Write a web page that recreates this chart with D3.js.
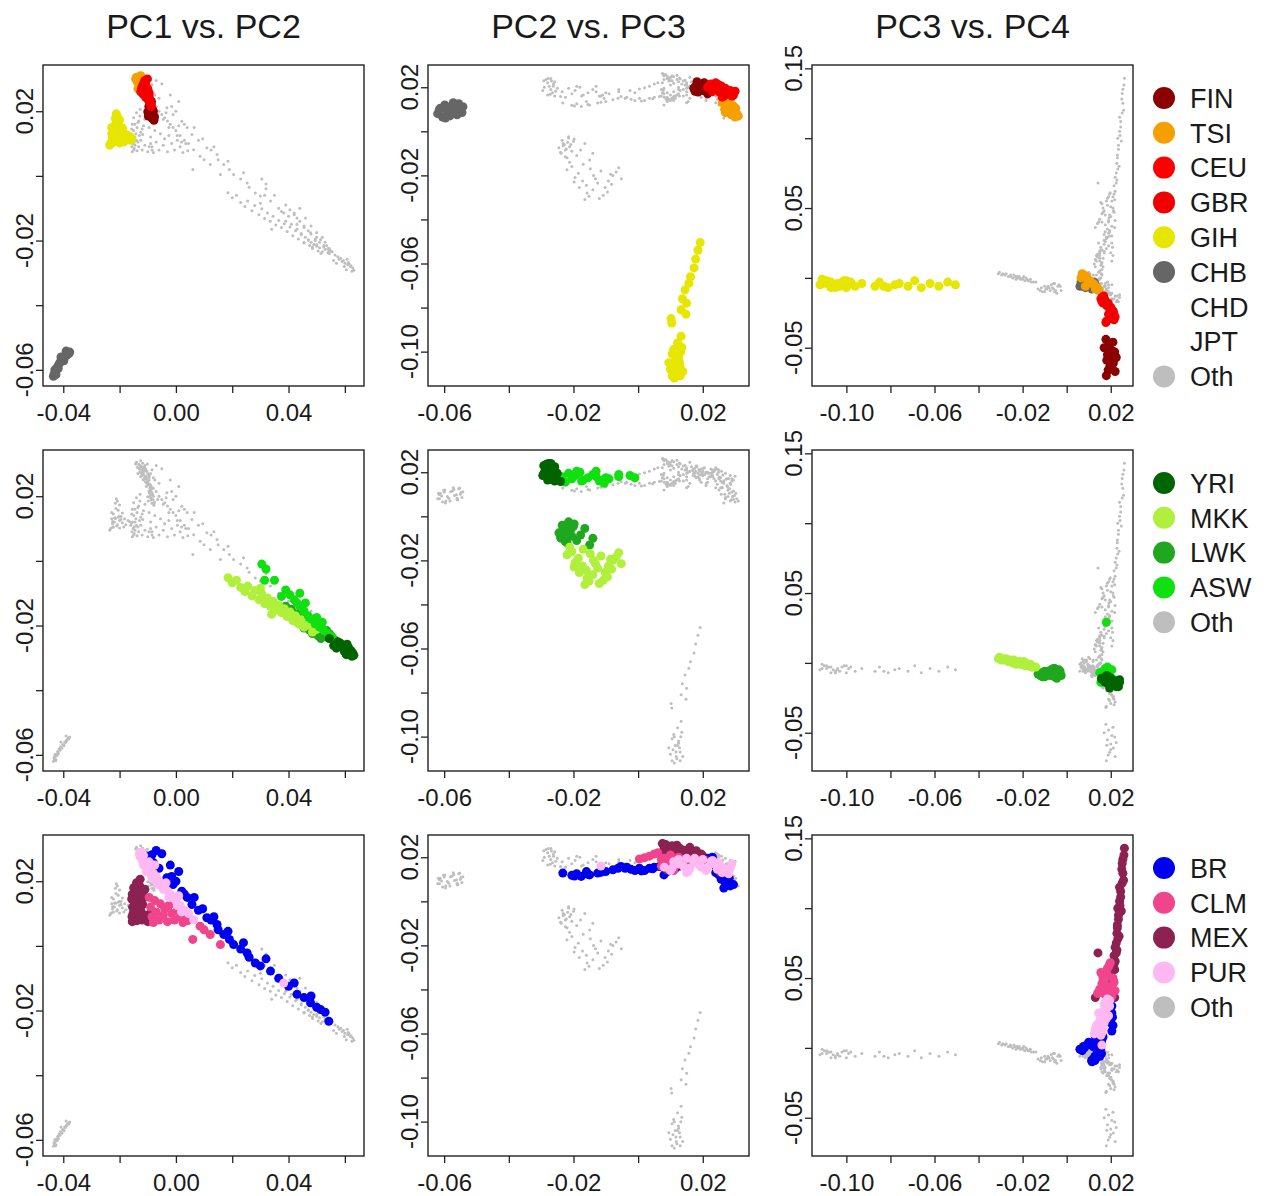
<!DOCTYPE html>
<html><head><meta charset="utf-8">
<script src="https://cdn.jsdelivr.net/npm/d3@7"></script>
<style>body{margin:0;background:#fff}svg{display:block}</style>
</head><body>
<svg id="chart" width="1271" height="1196"></svg>
<script>
// ---------- DATA: each individual = [PC1, PC2, PC3, PC4] ----------
const FIN = [[-0.0098,0.0185,0.0178,-0.044],[-0.0090,0.0195,0.0190,-0.048],[-0.0085,0.0178,0.0205,-0.052],[-0.0080,0.0200,0.0185,-0.055],[-0.0094,0.0210,0.0200,-0.058],[-0.0088,0.0188,0.0212,-0.061],[-0.0078,0.0172,0.0195,-0.064],[-0.0083,0.0205,0.0220,-0.067],[-0.0092,0.0220,0.0180,-0.070],[-0.0087,0.0230,0.0210,-0.046],[-0.0096,0.0215,0.0170,-0.050],[-0.0076,0.0182,0.0225,-0.057],[-0.0100,0.0198,0.0200,-0.062],[-0.0082,0.0190,0.0188,-0.066],[-0.0091,0.0202,0.0218,-0.053],[-0.0079,0.0176,0.0182,-0.059]];
const TSI = [[-0.0140,0.0305,0.0080,0.002],[-0.0132,0.0298,0.0095,-0.001],[-0.0125,0.0310,0.0070,0.003],[-0.0137,0.0290,0.0110,-0.003],[-0.0120,0.0283,0.0125,-0.005],[-0.0128,0.0275,0.0140,-0.007],[-0.0115,0.0268,0.0100,-0.002],[-0.0110,0.0260,0.0130,-0.008],[-0.0143,0.0300,0.0065,0.000],[-0.0122,0.0292,0.0090,0.001],[-0.0105,0.0278,0.0120,-0.004],[-0.0130,0.0286,0.0145,-0.009],[-0.0118,0.0302,0.0105,-0.002],[-0.0135,0.0270,0.0085,-0.006],[-0.0127,0.0295,0.0115,-0.004],[-0.0112,0.0288,0.0075,0.001]];
const CEU = [[-0.0120,0.0265,0.0160,-0.014],[-0.0112,0.0255,0.0175,-0.017],[-0.0105,0.0245,0.0190,-0.020],[-0.0098,0.0235,0.0205,-0.023],[-0.0092,0.0225,0.0215,-0.026],[-0.0088,0.0215,0.0200,-0.029],[-0.0115,0.0275,0.0170,-0.016],[-0.0108,0.0285,0.0185,-0.019],[-0.0100,0.0270,0.0195,-0.022],[-0.0095,0.0250,0.0210,-0.025],[-0.0125,0.0260,0.0155,-0.015],[-0.0103,0.0240,0.0220,-0.028],[-0.0090,0.0230,0.0180,-0.031],[-0.0110,0.0295,0.0165,-0.018]];
const GBR = [[-0.0118,0.0280,0.0172,-0.015],[-0.0106,0.0262,0.0188,-0.018],[-0.0099,0.0248,0.0200,-0.021],[-0.0093,0.0238,0.0212,-0.024],[-0.0087,0.0222,0.0195,-0.027],[-0.0113,0.0290,0.0160,-0.017],[-0.0101,0.0300,0.0182,-0.020],[-0.0096,0.0258,0.0205,-0.023],[-0.0122,0.0272,0.0168,-0.013],[-0.0108,0.0244,0.0215,-0.030],[-0.0091,0.0228,0.0190,-0.026],[-0.0116,0.0252,0.0178,-0.032]];
const GIH = [[-0.0232,0.0100,-0.108,-0.003],[-0.0225,0.0115,-0.104,-0.004],[-0.0218,0.0120,-0.110,-0.002],[-0.0210,0.0108,-0.106,-0.005],[-0.0200,0.0125,-0.102,-0.003],[-0.0190,0.0118,-0.109,-0.004],[-0.0178,0.0112,-0.100,-0.002],[-0.0165,0.0122,-0.104,-0.005],[-0.0158,0.0117,-0.107,-0.003],[-0.0228,0.0130,-0.111,-0.004],[-0.0205,0.0135,-0.098,-0.003],[-0.0235,0.0095,-0.105,-0.006],[-0.0222,0.0105,-0.101,-0.002],[-0.0195,0.0128,-0.105,-0.007],[-0.0185,0.0105,-0.111,-0.001],[-0.0170,0.0125,-0.103,-0.006],[-0.0160,0.0110,-0.099,-0.004],[-0.0215,0.0132,-0.100,-0.007],[-0.0200,0.0138,-0.109,-0.002],[-0.0225,0.0122,-0.096,-0.006],[-0.0208,0.0112,-0.112,-0.005],[-0.0182,0.0130,-0.107,-0.007],[-0.0215,0.0133,-0.093,-0.004],[-0.0225,0.0104,-0.087,-0.006],[-0.0200,0.0102,-0.085,-0.003],[-0.0218,0.0133,-0.081,-0.007],[-0.0195,0.0137,-0.076,-0.004],[-0.0222,0.0145,-0.072,-0.006],[-0.0205,0.0157,-0.069,-0.002],[-0.0213,0.0162,-0.066,-0.007],[-0.0200,0.0173,-0.062,-0.004],[-0.0215,0.0178,-0.058,-0.006],[-0.0208,0.0185,-0.054,-0.003],[-0.0212,0.0192,-0.0505,-0.005],[-0.0228,0.0150,-0.078,-0.005],[-0.0190,0.0148,-0.083,-0.006]];
const CHB = [[-0.0435,-0.0620,0.0080,-0.004],[-0.0432,-0.0612,0.0105,-0.006],[-0.0428,-0.0605,0.0065,-0.003],[-0.0425,-0.0598,0.0120,-0.007],[-0.0420,-0.0590,0.0090,-0.005],[-0.0415,-0.0582,0.0070,-0.002],[-0.0410,-0.0575,0.0115,-0.008],[-0.0402,-0.0568,0.0095,-0.004],[-0.0395,-0.0560,0.0075,-0.006],[-0.0388,-0.0555,0.0125,-0.003],[-0.0380,-0.0550,0.0100,-0.005],[-0.0377,-0.0545,0.0085,-0.007],[-0.0430,-0.0600,0.0110,-0.004],[-0.0418,-0.0596,0.0060,-0.006],[-0.0398,-0.0572,0.0130,-0.005],[-0.0408,-0.0560,0.0082,-0.003],[-0.0390,-0.0542,0.0112,-0.006],[-0.0426,-0.0615,0.0098,-0.002]];
const CHD = [[-0.0430,-0.0615,0.0080,-0.005],[-0.0418,-0.0595,0.0070,-0.004],[-0.0405,-0.0580,0.0112,-0.006],[-0.0392,-0.0562,0.0098,-0.003],[-0.0385,-0.0552,0.0128,-0.008],[-0.0422,-0.0602,0.0118,-0.002]];
const JPT = [[-0.0433,-0.0608,0.0092,-0.006],[-0.0412,-0.0586,0.0082,-0.004],[-0.0398,-0.0570,0.0122,-0.007],[-0.0390,-0.0558,0.0075,-0.002],[-0.0427,-0.0618,0.0105,-0.005],[-0.0382,-0.0548,0.0108,-0.003]];
const YRI = [[0.0580,-0.0258,0.0160,-0.012],[0.0590,-0.0265,0.0175,-0.014],[0.0600,-0.0270,0.0190,-0.010],[0.0610,-0.0275,0.0205,-0.016],[0.0620,-0.0280,0.0220,-0.013],[0.0628,-0.0285,0.0235,-0.017],[0.0605,-0.0290,0.0200,-0.011],[0.0595,-0.0262,0.0215,-0.015],[0.0615,-0.0272,0.0168,-0.012],[0.0585,-0.0255,0.0182,-0.009],[0.0622,-0.0278,0.0240,-0.014],[0.0545,-0.0240,0.0158,-0.011],[0.0575,-0.0250,0.0195,-0.018],[0.0612,-0.0268,0.0228,-0.013],[0.0560,-0.0262,0.0205,-0.015],[0.0632,-0.0292,0.0230,-0.016],[0.0598,-0.0280,0.0165,-0.011],[0.0608,-0.0258,0.0225,-0.017],[0.0570,-0.0270,0.0240,-0.012],[0.0625,-0.0295,0.0185,-0.010]];
const MKK = [[0.0185,-0.0052,-0.0215,0.001],[0.0200,-0.0068,-0.0185,0.000],[0.0215,-0.0060,-0.0165,-0.001],[0.0230,-0.0082,-0.0240,0.002],[0.0245,-0.0095,-0.0275,0.003],[0.0255,-0.0078,-0.0200,0.000],[0.0270,-0.0108,-0.0290,0.003],[0.0280,-0.0092,-0.0225,0.001],[0.0295,-0.0120,-0.0305,0.004],[0.0305,-0.0102,-0.0255,0.002],[0.0315,-0.0132,-0.0215,0.000],[0.0325,-0.0115,-0.0180,-0.001],[0.0335,-0.0140,-0.0265,0.001],[0.0345,-0.0125,-0.0235,0.001],[0.0355,-0.0152,-0.0295,0.002],[0.0365,-0.0138,-0.0200,-0.001],[0.0375,-0.0160,-0.0245,0.000],[0.0385,-0.0148,-0.0170,-0.002],[0.0395,-0.0172,-0.0225,0.000],[0.0405,-0.0158,-0.0280,0.002],[0.0415,-0.0185,-0.0190,-0.002],[0.0425,-0.0170,-0.0150,-0.003],[0.0435,-0.0195,-0.0210,-0.001],[0.0445,-0.0182,-0.0255,0.001],[0.0455,-0.0205,-0.0160,-0.003],[0.0470,-0.0198,-0.0230,-0.001],[0.0485,-0.0220,-0.0175,-0.002],[0.0500,-0.0212,-0.0140,-0.003],[0.0340,-0.0165,-0.0310,0.003],[0.0300,-0.0085,-0.0195,0.001]];
const LWK = [[0.0520,-0.0235,-0.0040,-0.006],[0.0530,-0.0228,-0.0060,-0.008],[0.0510,-0.0222,-0.0080,-0.007],[0.0500,-0.0218,-0.0050,-0.009],[0.0540,-0.0238,-0.0100,-0.010],[0.0490,-0.0212,-0.0070,-0.005],[0.0480,-0.0205,-0.0090,-0.008],[0.0525,-0.0220,-0.0120,-0.009],[0.0470,-0.0198,-0.0035,-0.005],[0.0460,-0.0190,-0.0110,-0.010],[0.0505,-0.0232,-0.0065,-0.007],[0.0445,-0.0178,-0.0085,-0.006],[0.0430,-0.0165,-0.0055,-0.004],[0.0410,-0.0150,-0.0130,-0.008],[0.0495,-0.0200,-0.0045,-0.011],[0.0565,-0.0245,-0.0075,-0.009],[0.0535,-0.0215,-0.0030,-0.006],[0.0515,-0.0240,-0.0095,-0.008],[0.0485,-0.0225,-0.0115,-0.007],[0.0550,-0.0232,-0.0055,-0.010],[0.0455,-0.0208,-0.0060,-0.004],[0.0545,-0.0225,-0.0085,-0.007],[0.0390,-0.0140,-0.0100,-0.006],[0.0475,-0.0215,-0.0025,-0.009]];
const ASW = [[0.0305,-0.0010,0.0175,-0.004],[0.0320,-0.0025,0.0185,-0.003],[0.0315,-0.0060,0.0180,0.029],[0.0390,-0.0090,0.0170,-0.006],[0.0420,-0.0120,0.0160,-0.008],[0.0440,-0.0140,0.0190,-0.007],[0.0455,-0.0155,0.0175,-0.010],[0.0470,-0.0170,0.0165,-0.009],[0.0480,-0.0180,0.0200,-0.012],[0.0495,-0.0195,0.0185,-0.011],[0.0510,-0.0205,0.0170,-0.013],[0.0525,-0.0215,0.0195,-0.012],[0.0540,-0.0225,0.0155,-0.014],[0.0555,-0.0235,0.0180,-0.010],[0.0430,-0.0130,0.0205,-0.005],[0.0405,-0.0105,0.0150,-0.007],[0.0350,-0.0060,0.0190,-0.005],[0.0375,-0.0110,0.0165,-0.007],[0.0460,-0.0130,0.0180,-0.008],[0.0500,-0.0175,0.0160,-0.009],[0.0520,-0.0190,0.0205,-0.011],[0.0440,-0.0100,0.0175,-0.006]];
const BR = [[-0.0103,0.0278,0.0090,0.002],[-0.0080,0.0257,0.0100,0.004],[-0.0060,0.0240,0.0130,0.008],[-0.0032,0.0211,0.0150,0.012],[-0.0010,0.0190,0.0205,0.030],[0.0021,0.0169,0.0208,0.022],[0.0040,0.0150,0.0210,0.016],[0.0057,0.0128,0.0160,0.006],[0.0080,0.0110,0.0158,0.010],[0.0110,0.0087,0.0145,0.004],[0.0125,0.0080,0.0120,0.001],[0.0146,0.0066,0.0158,0.003],[0.0170,0.0035,0.0150,0.000],[0.0190,0.0020,0.0140,-0.002],[0.0205,0.0004,0.0150,0.005],[0.0230,-0.0010,0.0140,-0.003],[0.0253,-0.0022,0.0145,-0.001],[0.0282,-0.0053,0.0158,-0.004],[0.0300,-0.0062,0.0150,-0.006],[0.0336,-0.0078,0.0143,-0.005],[0.0365,-0.0100,0.0135,-0.007],[0.0400,-0.0125,0.0128,-0.006],[0.0430,-0.0150,0.0120,-0.008],[0.0455,-0.0160,0.0135,-0.007],[0.0478,-0.0176,0.0113,-0.009],[0.0500,-0.0190,0.0125,-0.008],[0.0514,-0.0197,0.0115,-0.010],[0.0543,-0.0233,0.0128,-0.009],[-0.0090,0.0270,0.0080,0.000],[-0.0050,0.0285,0.0070,-0.002],[-0.0070,0.0295,0.0076,0.001],[-0.0020,0.0250,0.0120,0.002],[0.0000,0.0200,0.0205,0.025],[0.0010,0.0230,0.0200,0.018],[0.0150,0.0050,0.0155,0.000],[0.0260,-0.0035,0.0155,-0.004],[0.0065,0.0150,0.0165,0.008],[0.0095,0.0115,0.0150,0.005],[0.0135,0.0090,0.0135,0.002],[0.0185,0.0045,0.0148,-0.001],[0.0240,0.0010,0.0138,-0.002],[0.0320,-0.0040,0.0150,-0.005],[0.0420,-0.0115,0.0132,-0.006],[0.0480,-0.0155,0.0122,-0.008],[0.0530,-0.0205,0.0118,-0.009],[0.0030,0.0160,0.0205,0.012],[-0.0015,0.0215,0.0195,0.033],[-0.0095,0.0265,0.0060,-0.001],[-0.0085,0.0282,0.0105,0.003]];
const CLM = [[-0.0095,0.0150,0.0180,0.055],[-0.0090,0.0120,0.0165,0.050],[-0.0085,0.0090,0.0175,0.045],[-0.0075,0.0140,0.0190,0.058],[-0.0070,0.0105,0.0150,0.042],[-0.0060,0.0080,0.0170,0.048],[-0.0055,0.0130,0.0185,0.052],[-0.0045,0.0095,0.0145,0.040],[-0.0040,0.0115,0.0160,0.046],[-0.0030,0.0075,0.0175,0.038],[-0.0025,0.0125,0.0200,0.044],[-0.0015,0.0100,0.0210,0.050],[-0.0005,0.0080,0.0195,0.060],[0.0005,0.0110,0.0140,0.039],[0.0015,0.0090,0.0155,0.054],[0.0025,0.0072,0.0190,0.041],[0.0035,0.0100,0.0165,0.047],[0.0042,0.0078,0.0185,0.057],[0.0086,0.0061,0.0220,0.041],[0.0122,0.0035,0.0205,0.037],[0.0158,0.0004,0.0192,0.043],[0.0100,0.0050,0.0215,0.047],[0.0060,0.0020,0.0198,0.061],[-0.0080,0.0072,0.0160,0.053]];
const MEX = [[-0.0155,0.0075,0.0262,0.143],[-0.0150,0.0080,0.0255,0.135],[-0.0156,0.0090,0.0250,0.128],[-0.0148,0.0085,0.0258,0.120],[-0.0152,0.0100,0.0245,0.112],[-0.0145,0.0095,0.0240,0.105],[-0.0140,0.0110,0.0248,0.098],[-0.0154,0.0120,0.0235,0.092],[-0.0135,0.0105,0.0230,0.086],[-0.0142,0.0130,0.0238,0.080],[-0.0130,0.0125,0.0225,0.075],[-0.0150,0.0140,0.0228,0.070],[-0.0125,0.0135,0.0215,0.066],[-0.0138,0.0150,0.0220,0.062],[-0.0120,0.0145,0.0210,0.058],[-0.0146,0.0160,0.0205,0.055],[-0.0115,0.0155,0.0200,0.051],[-0.0132,0.0170,0.0212,0.048],[-0.0128,0.0185,0.0195,0.045],[-0.0127,0.0206,0.0190,0.040],[-0.0110,0.0175,0.0218,0.036],[-0.0095,0.0090,0.0142,0.068],[-0.0090,0.0100,0.0232,0.100],[-0.0085,0.0080,0.0252,0.118],[-0.0100,0.0240,0.0160,0.040],[-0.0105,0.0255,0.0130,0.036],[-0.0150,0.0180,0.0230,0.088],[-0.0155,0.0160,0.0245,0.108],[-0.0140,0.0195,0.0215,0.060],[-0.0145,0.0120,0.0255,0.125],[-0.0132,0.0090,0.0240,0.115],[-0.0120,0.0080,0.0235,0.095],[-0.0110,0.0095,0.0228,0.082],[-0.0100,0.0075,0.0220,0.072],[-0.0157,0.0145,0.0232,0.078],[-0.0148,0.0105,0.0252,0.132],[-0.0135,0.0165,0.0225,0.068],[-0.0125,0.0110,0.0218,0.056],[-0.0118,0.0128,0.0242,0.102],[-0.0138,0.0078,0.0260,0.138]];
const PUR = [[-0.0127,0.0276,0.0135,0.012],[-0.0120,0.0265,0.0150,0.016],[-0.0110,0.0255,0.0160,0.020],[-0.0100,0.0245,0.0145,0.025],[-0.0090,0.0235,0.0170,0.018],[-0.0080,0.0225,0.0180,0.028],[-0.0070,0.0215,0.0155,0.022],[-0.0060,0.0200,0.0190,0.032],[-0.0050,0.0190,0.0165,0.014],[-0.0040,0.0180,0.0175,0.026],[-0.0030,0.0170,0.0185,0.035],[-0.0020,0.0160,0.0150,0.019],[-0.0010,0.0150,0.0195,0.030],[0.0000,0.0140,0.0160,0.011],[0.0015,0.0125,0.0170,0.024],[0.0030,0.0110,0.0180,0.021],[0.0045,0.0100,0.0140,0.015],[0.0063,0.0081,0.0155,0.009],[-0.0095,0.0260,0.0130,0.013],[-0.0075,0.0250,0.0175,0.033],[-0.0115,0.0280,0.0125,0.010],[0.0383,-0.0115,0.0160,0.002],[-0.0105,0.0230,0.0185,0.029],[-0.0085,0.0210,0.0140,0.017],[-0.0065,0.0190,0.0170,0.027],[-0.0045,0.0175,0.0195,0.034],[-0.0025,0.0150,0.0130,0.013],[0.0005,0.0125,0.0190,0.023],[0.0020,0.0105,0.0150,0.018],[-0.0115,0.0250,0.0170,0.031],[-0.0035,0.0195,0.0155,0.020],[0.0010,0.0155,0.0135,0.016],[-0.0130,0.0285,0.0150,0.014],[-0.0122,0.0290,0.0170,0.019]];

const populations = {FIN, TSI, CEU, GBR, GIH, CHB, CHD, JPT, YRI, MKK, LWK, ASW, BR, CLM, MEX, PUR};

// highlighted groups per row (legend order) and drawing order
const rowLegends = [["FIN","TSI","CEU","GBR","GIH","CHB","CHD","JPT","Oth"],["YRI","MKK","LWK","ASW","Oth"],["BR","CLM","MEX","PUR","Oth"]];
const rowDrawOrder = [["CHD","JPT","CHB","GIH","FIN","TSI","CEU","GBR"],["LWK","MKK","ASW","YRI"],["BR","MEX","CLM","PUR"]];

// axes
const pcNames = ["PC1","PC2","PC3","PC4"];
const pcLimits = [[-0.0472,0.0668],[-0.065,0.0343],[-0.1156,0.0301],[-0.0774,0.1524]];
const pcTicks = [[-0.04,-0.02,0,0.02,0.04,0.06],[-0.06,-0.04,-0.02,0,0.02],[-0.10,-0.08,-0.06,-0.04,-0.02,0,0.02],[-0.05,0,0.05,0.10,0.15]];
const pcLabelsAsX = [[-0.04,0,0.04],[-0.06,-0.02,0.02],[-0.10,-0.06,-0.02,0.02],[]];
const pcLabelsAsY = [[],[-0.06,-0.02,0.02],[-0.10,-0.06,-0.02,0.02],[-0.05,0.05,0.15]];
const panelPairs = [[0,1],[1,2],[2,3]];

// ---------- STYLE ----------
const popColors = {FIN:"#8b0000",TSI:"#f5a000",CEU:"#ff0000",GBR:"#f20000",GIH:"#e6e600",CHB:"#666666",CHD:"#ffffff",JPT:"#ffffff",
  YRI:"#006400",MKK:"#b0f03c",LWK:"#1fa81f",ASW:"#10e010",BR:"#0000f0",CLM:"#f0458c",MEX:"#8b2252",PUR:"#ffb8f2",Oth:"#bebebe"};
const FONT = "'Liberation Sans', Arial, Helvetica, sans-serif";
const colX = [43, 428, 812], rowY = [65, 450, 835], W = 321, H = 321;
const textCol = "#1a1a1a";

const svg = d3.select("#chart");
svg.append("rect").attr("width",1271).attr("height",1196).attr("fill","#fff");

const fmt = d => d.toFixed(2);
const hasVal = (arr, v) => arr.some(a => Math.abs(a - v) < 1e-9);

rowLegends.forEach((legend, r) => {
  const highlighted = new Set(rowDrawOrder[r]);
  const others = Object.keys(populations).filter(p => !highlighted.has(p));
  panelPairs.forEach(([xi, yi], c) => {
    const x = d3.scaleLinear().domain(pcLimits[xi]).range([colX[c], colX[c] + W]);
    const y = d3.scaleLinear().domain(pcLimits[yi]).range([rowY[r] + H, rowY[r]]);
    const g = svg.append("g");

    others.forEach(p => {
      g.append("g").selectAll("circle").data(populations[p]).join("circle")
        .attr("cx", d => x(d[xi])).attr("cy", d => y(d[yi])).attr("r", 1.5)
        .attr("fill", popColors.Oth);
    });
    rowDrawOrder[r].forEach(p => {
      g.append("g").selectAll("circle").data(populations[p]).join("circle")
        .attr("cx", d => x(d[xi])).attr("cy", d => y(d[yi])).attr("r", 4.5)
        .attr("fill", popColors[p]);
    });

    const xa = g.append("g").attr("transform", `translate(0,${rowY[r] + H})`)
      .call(d3.axisBottom(x).tickValues(pcTicks[xi]).tickSize(7).tickSizeOuter(0)
        .tickFormat(d => hasVal(pcLabelsAsX[xi], d) ? fmt(d) : ""));
    xa.select(".domain").remove();
    xa.selectAll("line").attr("stroke", "#222").attr("stroke-width", 1.3);
    xa.selectAll("text").attr("font-family", FONT).attr("font-size", 24).attr("fill", textCol)
      .attr("y", 0).attr("dy", 0).attr("transform", "translate(0,35)");

    const ya = g.append("g").attr("transform", `translate(${colX[c]},0)`)
      .call(d3.axisLeft(y).tickValues(pcTicks[yi]).tickSize(7).tickSizeOuter(0).tickFormat(""));
    ya.select(".domain").remove();
    ya.selectAll("line").attr("stroke", "#222").attr("stroke-width", 1.3);
    g.append("g").selectAll("text").data(pcLabelsAsY[yi]).join("text")
      .attr("transform", d => `translate(${colX[c] - 10},${y(d)}) rotate(-90)`)
      .attr("text-anchor", "middle").attr("font-family", FONT).attr("font-size", 24)
      .attr("fill", textCol).text(fmt);

    g.append("rect").attr("x", colX[c]).attr("y", rowY[r]).attr("width", W).attr("height", H)
      .attr("fill", "none").attr("stroke", "#222").attr("stroke-width", 1.4);

    if (r === 0) {
      svg.append("text").attr("x", colX[c] + W / 2).attr("y", 38).attr("text-anchor", "middle")
        .attr("font-family", FONT).attr("font-size", 34).attr("fill", textCol)
        .text(`${pcNames[xi]} vs. ${pcNames[yi]}`);
    }
  });

  const lg = svg.append("g");
  const items = lg.selectAll("g").data(legend).join("g")
    .attr("transform", (d, i) => `translate(1164,${rowY[r] + 33 + i * 34.8})`);
  items.append("circle").attr("r", 11).attr("fill", d => popColors[d]);
  items.append("text").attr("x", 26).attr("dy", "0.36em").attr("font-family", FONT)
    .attr("font-size", 27).attr("fill", textCol).text(d => d);
});
</script>
</body></html>
